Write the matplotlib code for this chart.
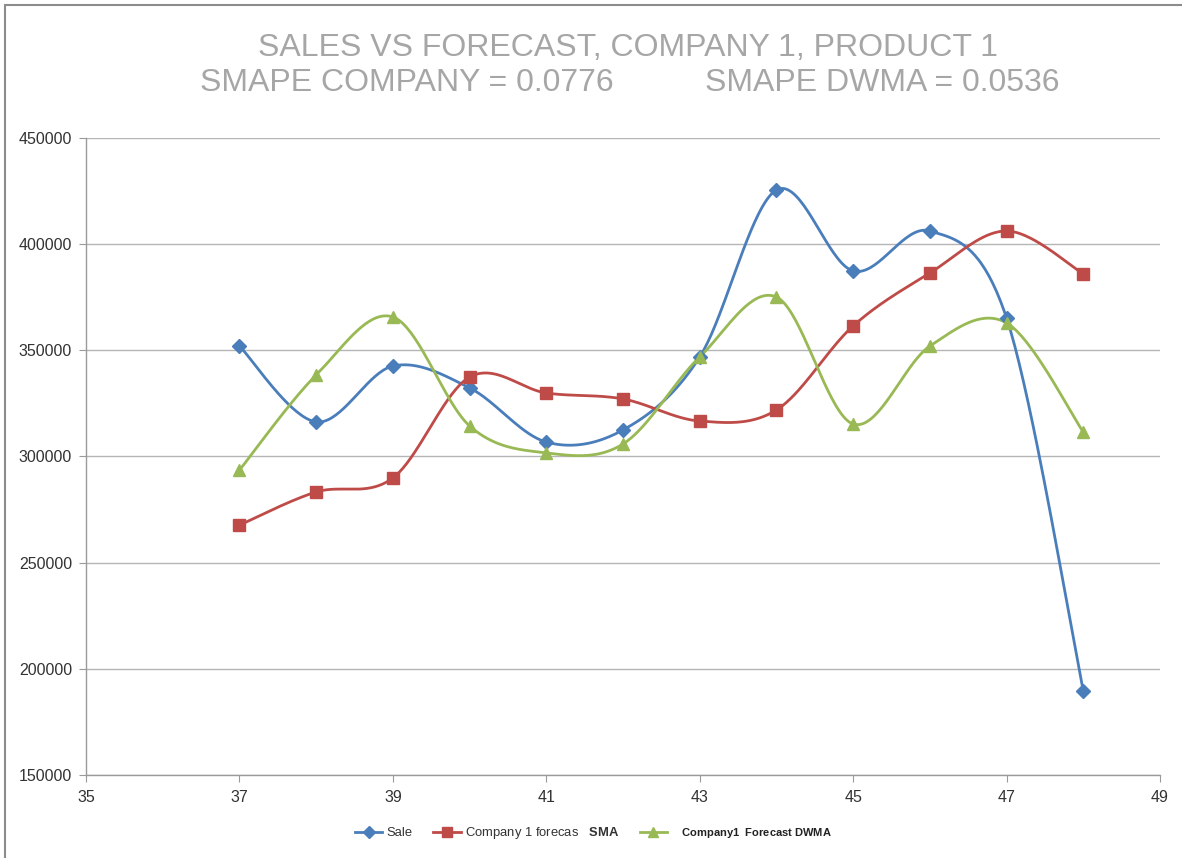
import numpy as np
import matplotlib
matplotlib.use("Agg")
import matplotlib.pyplot as plt
from matplotlib.patches import Rectangle

# datos
semanas = [37, 38, 39, 40, 41, 42, 43, 44, 45, 46, 47, 48]
venta = [352000, 316300, 342600, 332300, 306800, 312500, 346900, 425500, 387400, 406200, 365200, 189600]
pron_sma = [267700, 283300, 289900, 337400, 329900, 327100, 316700, 321900, 361500, 386400, 406200, 386000]
pron_dwma = [293600, 338400, 365700, 314400, 301700, 305900, 346900, 375100, 315300, 352000, 362900, 311500]

series_labels = ["Sale", r"Company 1 forecas   $\mathbf{SMA}$", r"$\ \ \ $Company1  Forecast DWMA"]
colores = ["#4A7EBB", "#BE4B48", "#98B954"]
marcadores = ["D", "s", "^"]
tam_marcador = [7, 9, 9]

x_ticks = [35, 37, 39, 41, 43, 45, 47, 49]
y_ticks = [150000, 200000, 250000, 300000, 350000, 400000, 450000]


def suavizar(x, y, n=40):
    # curva tipo Excel: bezier con puntos de control P_i +/- (P_i+1 - P_i-1)/6
    p = np.column_stack([x, y]).astype(float)
    out = []
    for i in range(len(p) - 1):
        p0 = p[i - 1] if i > 0 else p[i]
        p1, p2 = p[i], p[i + 1]
        p3 = p[i + 2] if i + 2 < len(p) else p[i + 1]
        c1 = p1 + (p2 - p0) / 6.0
        c2 = p2 - (p3 - p1) / 6.0
        t = np.linspace(0, 1, n)[:, None]
        seg = ((1 - t) ** 3) * p1 + 3 * ((1 - t) ** 2) * t * c1 + 3 * (1 - t) * t ** 2 * c2 + t ** 3 * p2
        out.append(seg if i == 0 else seg[1:])
    out = np.vstack(out)
    return out[:, 0], out[:, 1]


plt.rcParams['font.family'] = ['Liberation Sans', 'DejaVu Sans']
plt.rcParams['mathtext.fontset'] = 'custom'
plt.rcParams['mathtext.rm'] = 'Liberation Sans'
plt.rcParams['mathtext.bf'] = 'Liberation Sans:bold'

fig = plt.figure(figsize=(11.82, 8.58), dpi=100)
ax = fig.add_axes([0.0728, 0.0967, 0.9086, 0.7425])

handles = []
for datos, col, mk, ms, lab in zip([venta, pron_sma, pron_dwma], colores, marcadores, tam_marcador, series_labels):
    xs, ys = suavizar(semanas, datos)
    ax.plot(xs, ys, color=col, lw=2.0, solid_capstyle='round', zorder=3)
    ax.plot(semanas, datos, ls='none', marker=mk, ms=ms, color=col, mec=col, zorder=4)
    h, = ax.plot([], [], color=col, lw=2.0, marker=mk, ms=ms * 0.85, mec=col, label=lab)
    handles.append(h)

ax.set_xlim(35, 49)
ax.set_ylim(150000, 450000)
ax.set_xticks(x_ticks)
ax.set_yticks(y_ticks)
ax.yaxis.grid(True, color='#B5B5B5', lw=1.0)
ax.set_axisbelow(True)
for s in ['top', 'right']:
    ax.spines[s].set_visible(False)
for s in ['left', 'bottom']:
    ax.spines[s].set_color('#9A9A9A')
    ax.spines[s].set_linewidth(1.0)
ax.tick_params(axis='both', colors='#9A9A9A', labelcolor='#333333', length=5, labelsize=11.5)
ax.tick_params(axis='y', pad=5)
ax.tick_params(axis='x', pad=6)

# titulo
gris = '#A6A6A6'
fig.text(0.531, 0.944, "SALES VS FORECAST, COMPANY 1, PRODUCT 1", ha='center', va='center',
         fontsize=23, color=gris)
fig.text(0.3443, 0.9033, "SMAPE COMPANY = 0.0776", ha='center', va='center', fontsize=23, color=gris)
fig.text(0.7462, 0.9033, "SMAPE DWMA = 0.0536", ha='center', va='center', fontsize=23, color=gris)

# leyenda
leg = fig.legend(handles=handles, loc='center', bbox_to_anchor=(0.502, 0.029), ncol=3, frameon=False,
                 handlelength=2.1, columnspacing=1.6, handletextpad=0.3, fontsize=9.4)
for t in leg.get_texts():
    t.set_color('#333333')
leg.get_texts()[2].set_fontweight('bold')
leg.get_texts()[2].set_fontsize(8)
leg.get_texts()[2].set_color('#222222')

# marco del area del grafico
fig.patches.append(Rectangle((5 / 1182, -0.1), 1.2, 1.1 - 5 / 858, transform=fig.transFigure,
                             fill=False, edgecolor='#8C8C8C', lw=1.5))

fig.savefig('out.png', dpi=100)
